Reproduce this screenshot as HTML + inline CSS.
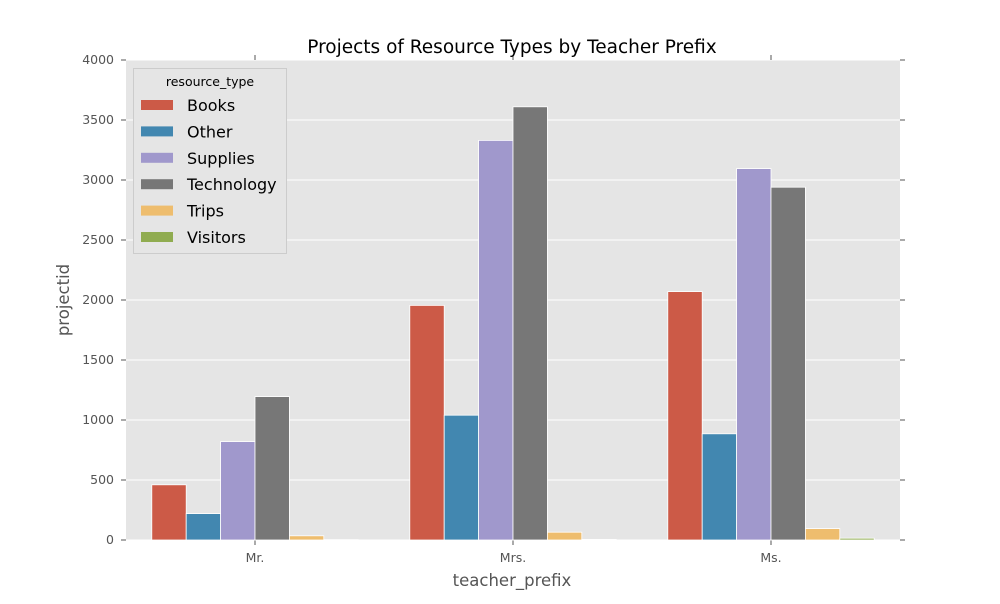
<!DOCTYPE html>
<html><head><meta charset="utf-8"><style>
body{margin:0;background:#fff;font-family:"DejaVu Sans","Liberation Sans",sans-serif}
svg text{font-family:"DejaVu Sans","Liberation Sans",sans-serif}
</style></head><body>
<svg id="chart" width="1000" height="600" xmlns="http://www.w3.org/2000/svg"></svg>
<script>
const categories=["Mr.","Mrs.","Ms."];
const seriesNames=["Books","Other","Supplies","Technology","Trips","Visitors"];
const books=[460,1955,2070];
const other=[220,1040,885];
const supplies=[820,3330,3095];
const technology=[1195,3610,2940];
const trips=[35,65,95];
const visitors=[3,5,15];
const yTicks=[0,500,1000,1500,2000,2500,3000,3500,4000];
const colors=["#cc5a47","#4287b0","#a098cc","#777777","#eebd6e","#90ac50"];
const allSeries=[books,other,supplies,technology,trips,visitors];
const svg=document.getElementById('chart');
const NS="http://www.w3.org/2000/svg";
const L=126,R=900,T=60,B=540,yMax=4000;
const y=v=>B-(v/yMax)*(B-T);
const band=(R-L)/categories.length;
const xc=i=>L+band*(i+0.5);
function mk(tag,attrs,parent){const e=document.createElementNS(NS,tag);for(const k in attrs)e.setAttribute(k,attrs[k]);(parent||svg).appendChild(e);return e;}
let bg=mk('rect',{x:L,y:T,width:R-L,height:B-T,fill:'#e5e5e5'});


yTicks.forEach(t=>{
 let g=mk('line',{x1:L,x2:R,y1:y(t),y2:y(t),stroke:'#fff','stroke-width':1});
 
 
 mk('line',{x1:L-5,x2:L,y1:y(t),y2:y(t),stroke:'#555'});
 mk('line',{x1:R,x2:R+5,y1:y(t),y2:y(t),stroke:'#555'});
 let tx=mk('text',{x:L-12,y:y(t)+4,'text-anchor':'end','font-size':12.5,fill:'#555'});
 tx.textContent=t;
 
 
});
const gw=band*0.8,bw=gw/seriesNames.length;
categories.forEach((c,i)=>{
 mk('line',{x1:xc(i),x2:xc(i),y1:B,y2:B+5,stroke:'#555'});
 mk('line',{x1:xc(i),x2:xc(i),y1:T-5,y2:T,stroke:'#555'});
 let tx=mk('text',{x:xc(i),y:B+22,'text-anchor':'middle','font-size':12.5,fill:'#555'});
 tx.textContent=c;
 
 
 allSeries.forEach((s,j)=>{
  const x0=xc(i)-gw/2+j*bw;
  let r=mk('rect',{x:x0,y:y(s[i]),width:bw,height:B-y(s[i]),fill:colors[j],stroke:'#fff','stroke-width':0.8});
  
  
 });
});
let title=mk('text',{x:512,y:53,'text-anchor':'middle','font-size':18.5,fill:'#000'});
title.textContent="Projects of Resource Types by Teacher Prefix";


let xl=mk('text',{x:512,y:586,'text-anchor':'middle','font-size':16.5,fill:'#555'});
xl.textContent="teacher_prefix";


let yl=mk('text',{x:69,y:300,'text-anchor':'middle','font-size':16.5,fill:'#555',transform:'rotate(-90 69 300)'});
yl.textContent="projectid";


let lg=mk('rect',{x:133.5,y:68.5,width:153,height:185,fill:'#e5e5e5',stroke:'#ccc'});


let lt=mk('text',{x:210,y:86,'text-anchor':'middle','font-size':12.5,fill:'#000'});
lt.textContent="resource_type";


seriesNames.forEach((n,j)=>{
 const yy=105+j*26.4;
 let sw=mk('rect',{x:141,y:yy-5,width:32,height:10,fill:colors[j]});
 
 
 let t=mk('text',{x:187,y:yy+6,'font-size':16,fill:'#000'});
 t.textContent=n;
 
 
});
</script>
</body></html>
